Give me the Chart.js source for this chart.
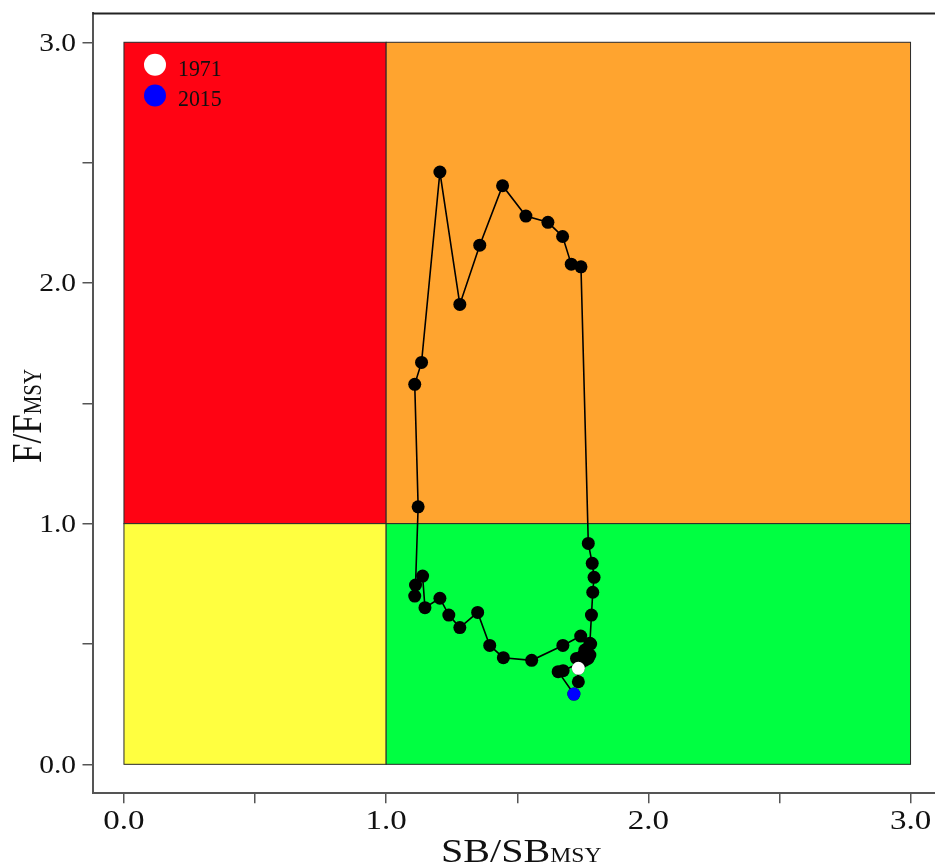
<!DOCTYPE html>
<html>
<head>
<meta charset="utf-8">
<script src="https://cdn.jsdelivr.net/npm/chart.js@4.4.1/dist/chart.umd.min.js"></script>
<style>
  html, body { margin: 0; padding: 0; background: #fff; overflow: hidden; }
  #wrap { position: relative; width: 935px; height: 868px; overflow: hidden; }
  #kobe { position: absolute; left: 0; top: 0; }
</style>
</head>
<body>
<div id="wrap"><canvas id="kobe" width="960" height="868"></canvas></div>
<script>
// stock trajectory, one point per year
const years = [1971, 1972, 1973, 1974, 1975, 1976, 1977, 1978, 1979, 1980,
  1981, 1982, 1983, 1984, 1985, 1986, 1987, 1988, 1989, 1990,
  1991, 1992, 1993, 1994, 1995, 1996, 1997, 1998, 1999, 2000,
  2001, 2002, 2003, 2004, 2005, 2006, 2007, 2008, 2009, 2010,
  2011, 2012, 2013, 2014, 2015];

const sbRatio = [1.733, 1.733, 1.726, 1.758, 1.777, 1.758, 1.777, 1.783, 1.788, 1.793,
  1.786, 1.771, 1.743, 1.706, 1.673, 1.617, 1.533, 1.444, 1.357, 1.281,
  1.205, 1.135, 1.109, 1.122, 1.112, 1.109, 1.139, 1.148, 1.205, 1.239,
  1.281, 1.349, 1.395, 1.447, 1.555, 1.674, 1.742, 1.780, 1.768, 1.750,
  1.770, 1.745, 1.675, 1.656, 1.716];

const fRatio = [0.399, 0.343, 0.440, 0.433, 0.454, 0.475, 0.503, 0.620, 0.715, 0.777,
  0.835, 0.918, 2.067, 2.078, 2.193, 2.252, 2.278, 2.404, 2.157, 1.911,
  2.461, 1.670, 1.579, 1.070, 0.745, 0.699, 0.782, 0.651, 0.690, 0.620,
  0.568, 0.631, 0.494, 0.443, 0.432, 0.494, 0.533, 0.500, 0.462, 0.452,
  0.440, 0.425, 0.389, 0.385, 0.292];

const xTicks = [0, 0.5, 1, 1.5, 2, 2.5, 3];
const yTicks = [0, 0.5, 1, 1.5, 2, 2.5, 3];

// quadrants: [x0, x1, y0, y1, colour]
const zones = [
  [0, 1, 1, 3, '#ff0313'],
  [1, 3, 1, 3, '#ffa42f'],
  [0, 1, 0, 1, '#ffff40'],
  [1, 3, 0, 1, '#00ff41']
];

const SERIF = '"Liberation Serif", "Times New Roman", serif';
const STRETCH = 1.18;

const points = years.map((y, i) => ({ x: sbRatio[i], y: fRatio[i] }));
const last = years.length - 1;

function stretchText(ctx, text, x, y, align, size, sx) {
  ctx.save();
  ctx.translate(x, y);
  ctx.scale(sx, 1);
  ctx.font = size + 'px ' + SERIF;
  ctx.textAlign = align;
  ctx.textBaseline = 'alphabetic';
  ctx.fillText(text, 0, 0);
  ctx.restore();
}

const kobePlugin = {
  id: 'kobe',
  beforeDatasetsDraw(chart) {
    const { ctx, scales: { x, y } } = chart;
    ctx.save();
    zones.forEach(z => {
      const l = x.getPixelForValue(z[0]), r = x.getPixelForValue(z[1]);
      const t = y.getPixelForValue(z[3]), b = y.getPixelForValue(z[2]);
      ctx.fillStyle = z[4];
      ctx.fillRect(l, t, r - l, b - t);
      ctx.strokeStyle = '#2a2a2a';
      ctx.lineWidth = 1;
      ctx.strokeRect(l, t, r - l, b - t);
    });
    ctx.restore();
  },
  afterDraw(chart) {
    const { ctx, chartArea: a, scales: { x, y } } = chart;
    ctx.save();
    // top side of the box
    ctx.strokeStyle = '#222';
    ctx.lineWidth = 2;
    ctx.beginPath();
    ctx.moveTo(a.left, a.top);
    ctx.lineTo(a.right, a.top);
    ctx.stroke();

    ctx.fillStyle = '#111';
    // tick labels on whole numbers only
    yTicks.filter(v => Number.isInteger(v)).forEach(v => {
      stretchText(ctx, v.toFixed(1), 76, y.getPixelForValue(v) + 8.5, 'right', 25, STRETCH);
    });
    xTicks.filter(v => Number.isInteger(v)).forEach(v => {
      stretchText(ctx, v.toFixed(1), x.getPixelForValue(v), 829, 'center', 28, STRETCH);
    });

    // x title: SB/SB with MSY
    ctx.font = '34px ' + SERIF;
    const w1 = ctx.measureText('SB/SB').width * STRETCH;
    stretchText(ctx, 'SB/SB', 441, 862, 'left', 34, STRETCH);
    stretchText(ctx, 'MSY', 441 + w1, 862, 'left', 20, STRETCH);

    // y title rotated: F/F with MSY
    ctx.save();
    ctx.translate(41, 463);
    ctx.scale(STRETCH, 1);
    ctx.rotate(-Math.PI / 2);
    ctx.textAlign = 'left';
    ctx.textBaseline = 'alphabetic';
    ctx.font = '35px ' + SERIF;
    ctx.fillText('F/F', 0, 0);
    const w2 = ctx.measureText('F/F').width;
    ctx.font = '21px ' + SERIF;
    ctx.fillText('MSY', w2, 0);
    ctx.restore();

    // legend: first and last year
    const legend = [[years[0], '#ffffff', 64.7], [years[last], '#0000ff', 95.5]];
    legend.forEach(([label, col, cy]) => {
      ctx.beginPath();
      ctx.arc(155, cy, 11, 0, Math.PI * 2);
      ctx.fillStyle = col;
      ctx.fill();
      ctx.fillStyle = '#111';
      stretchText(ctx, String(label), 178, cy + 10.8, 'left', 23, 0.95);
    });
    ctx.restore();
  }
};

const axisCommon = {
  type: 'linear',
  min: -0.12,
  max: 3.12,
  grid: { drawOnChartArea: false, drawTicks: true, tickLength: 10, color: '#555', lineWidth: 1.5 },
  border: { display: true, color: '#555', width: 2 },
  ticks: { display: false }
};

function build() {
  new Chart(document.getElementById('kobe'), {
    type: 'scatter',
    data: {
      datasets: [
        {
          label: String(years[0]),
          data: [points[0]],
          pointRadius: 6.5,
          pointBackgroundColor: '#ffffff',
          pointBorderWidth: 0,
          showLine: false
        },
        {
          label: String(years[last]),
          data: [points[last]],
          pointRadius: 6.5,
          pointBackgroundColor: '#0000ff',
          pointBorderWidth: 0,
          showLine: false
        },
        {
          label: 'trajectory',
          data: points,
          showLine: true,
          borderColor: '#000',
          borderWidth: 1.6,
          pointRadius: 6.5,
          pointBackgroundColor: '#000',
          pointBorderWidth: 0,
          tension: 0
        }
      ]
    },
    options: {
      responsive: false,
      animation: false,
      devicePixelRatio: 1,
      layout: { padding: { left: 0, top: 13.4, right: 18, bottom: 0 } },
      plugins: { legend: { display: false }, tooltip: { enabled: false } },
      scales: {
        x: Object.assign({}, axisCommon, {
          afterBuildTicks: s => { s.ticks = xTicks.map(v => ({ value: v })); },
          afterFit: s => { s.height = 74.8; }
        }),
        y: Object.assign({}, axisCommon, {
          afterBuildTicks: s => { s.ticks = yTicks.map(v => ({ value: v })); },
          afterFit: s => { s.width = 92.5; }
        })
      }
    },
    plugins: [kobePlugin]
  });
}

// make sure the serif face is ready before drawing text on the canvas
if (document.fonts && document.fonts.load) {
  document.fonts.load('25px "Liberation Serif"').then(build, build);
} else {
  build();
}
</script>
</body>
</html>
